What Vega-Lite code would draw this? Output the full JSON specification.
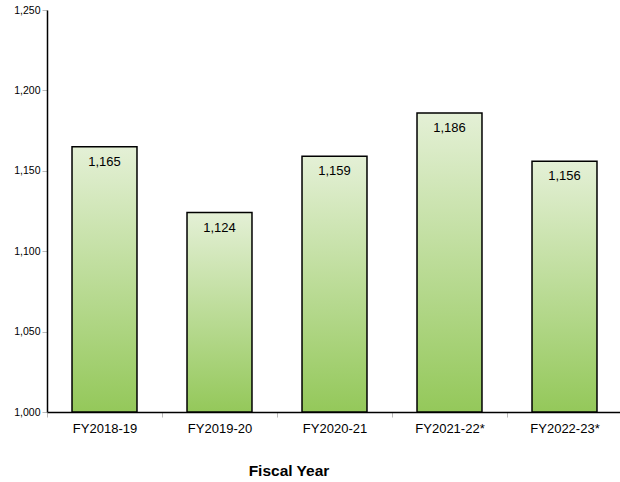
{
  "$schema": "https://vega.github.io/schema/vega-lite/v6.json",
  "autosize": {"type": "none"},
  "width": 575,
  "height": 402,
  "padding": {"left": 47, "top": 10, "right": 0, "bottom": 70},
  "background": "white",
  "config": {
    "view": {"stroke": null},
    "font": "Liberation Sans"
  },
  "data": {
    "values": [
      {"year": "FY2018-19", "value": 1165},
      {"year": "FY2019-20", "value": 1124},
      {"year": "FY2020-21", "value": 1159},
      {"year": "FY2021-22*", "value": 1186},
      {"year": "FY2022-23*", "value": 1156}
    ]
  },
  "encoding": {
    "x": {
      "field": "year",
      "type": "nominal",
      "sort": null,
      "scale": {"paddingInner": 0, "paddingOuter": 0},
      "axis": {
        "title": "Fiscal Year",
        "titleFont": "Liberation Sans",
        "titleFontSize": 15.5,
        "titleFontWeight": "bold",
        "titleColor": "#000000",
        "titleX": 241.5,
        "titleY": 58,
        "titleAlign": "center",
        "titleBaseline": "middle",
        "labelAngle": 0,
        "labelFontSize": 13,
        "labelColor": "#000000",
        "labelPadding": 5,
        "tickBand": "extent",
        "tickColor": "#bbbbbb",
        "tickSize": 5,
        "domainColor": "#000000",
        "domainWidth": 1.5
      }
    }
  },
  "layer": [
    {
      "mark": {
        "type": "bar",
        "width": {"band": 0.565},
        "stroke": "#000000",
        "strokeWidth": 1.5,
        "color": {
          "gradient": "linear",
          "x1": 0, "y1": 0, "x2": 0, "y2": 1,
          "stops": [
            {"offset": 0, "color": "#e4f0d6"},
            {"offset": 1, "color": "#94c85a"}
          ]
        }
      },
      "encoding": {
        "y": {
          "field": "value",
          "type": "quantitative",
          "scale": {"domain": [1000, 1250], "zero": false, "nice": false},
          "axis": {
            "title": null,
            "values": [1000, 1050, 1100, 1150, 1200, 1250],
            "format": ",.0f",
            "labelFontSize": 10.5,
            "labelColor": "#000000",
            "labelPadding": 2,
            "tickColor": "#bbbbbb",
            "tickSize": 5,
            "domainColor": "#000000",
            "domainWidth": 1.5,
            "grid": false
          }
        },
        "y2": {"datum": 1000}
      }
    },
    {
      "mark": {"type": "text", "dy": 15, "baseline": "middle", "fontSize": 13, "color": "#000000"},
      "encoding": {
        "y": {"field": "value", "type": "quantitative"},
        "text": {"field": "value", "type": "quantitative", "format": ",.0f"}
      }
    }
  ]
}
